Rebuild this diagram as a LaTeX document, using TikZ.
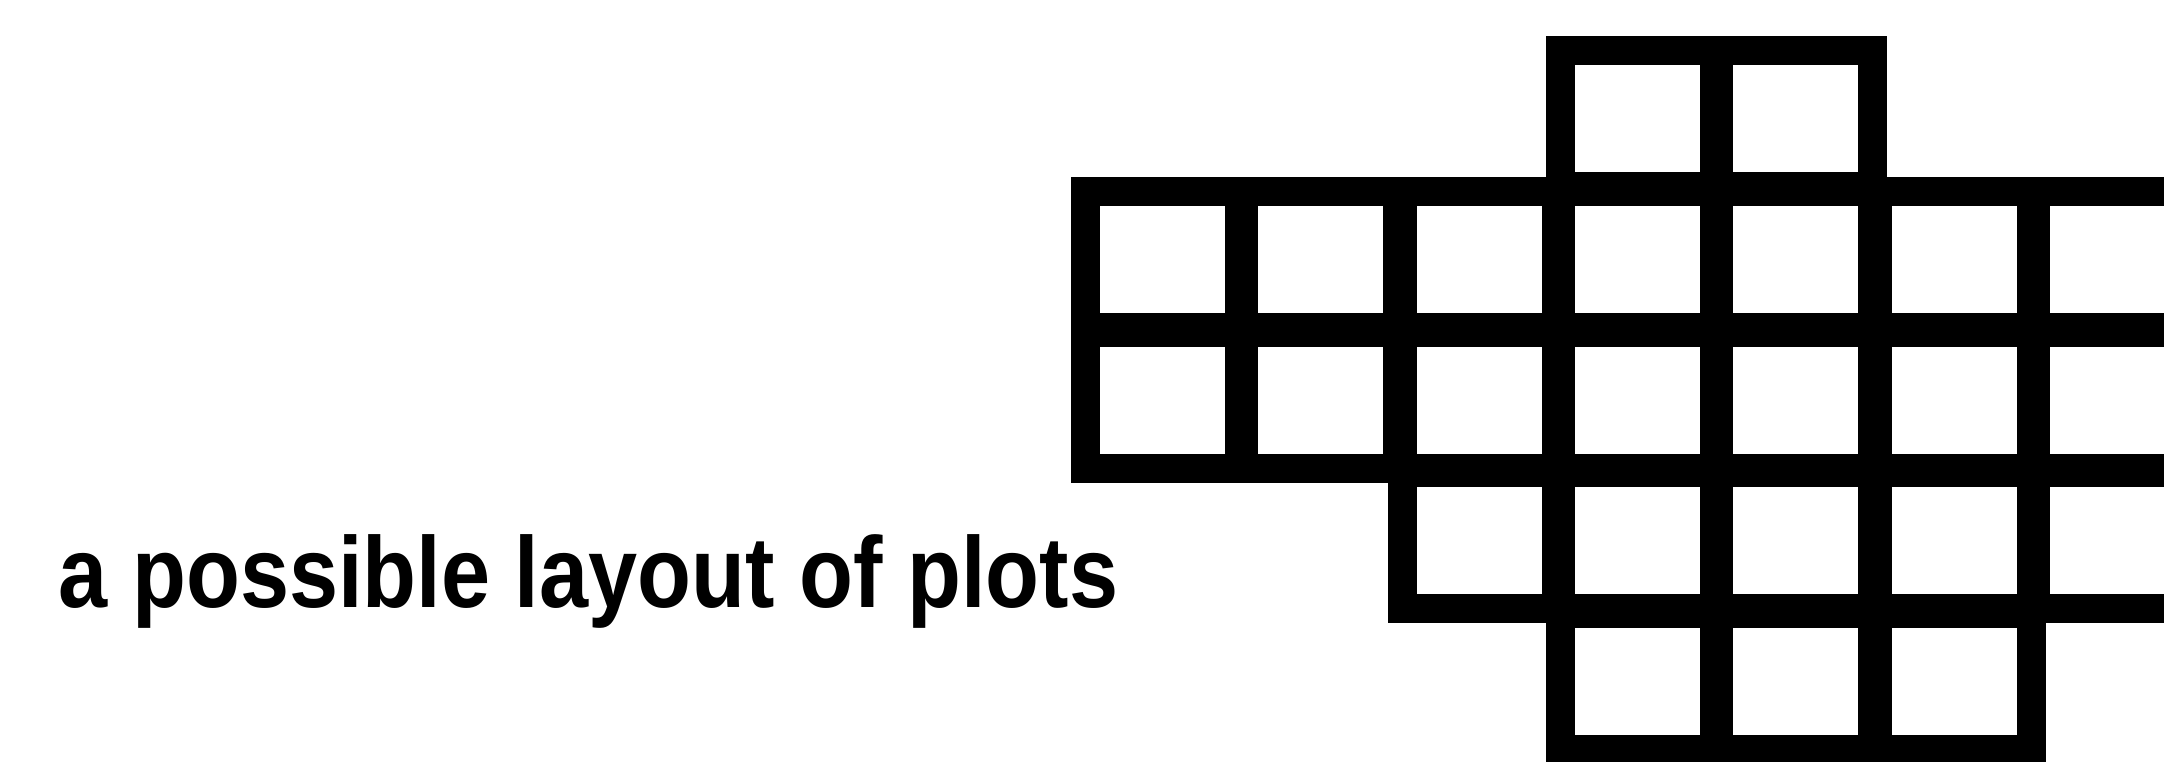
\documentclass[tikz,border=0pt]{standalone}
\usepackage{fontspec}
\setmainfont{Liberation Sans}
\begin{document}
\begin{tikzpicture}[x=0.01cm,y=-0.01cm,
  frame/.style={fill=black},
  cellfill/.style={fill=white},
  lbl/.style={anchor=base west,inner sep=0pt,font=\fontsize{25.1}{30}\selectfont\bfseries}]
\useasboundingbox (0,0) rectangle (2164,762);
\clip (0,0) rectangle (2164,762);
\def\cells{4/0,5/0,1/1,2/1,3/1,4/1,5/1,6/1,7/1,1/2,2/2,3/2,4/2,5/2,6/2,7/2,3/3,4/3,5/3,6/3,7/3,4/4,5/4,6/4}
\foreach \c/\r in \cells {
  \pgfmathsetmacro{\xx}{1100+(\c-1)*158.3}
  \pgfmathsetmacro{\yy}{65+\r*140.8}
  \fill[frame] (\xx-29,\yy-29) rectangle (\xx+125+29,\yy+107+29);
}
\foreach \c/\r in \cells {
  \pgfmathsetmacro{\xx}{1100+(\c-1)*158.3}
  \pgfmathsetmacro{\yy}{65+\r*140.8}
  \fill[cellfill] (\xx,\yy) rectangle (\xx+125,\yy+107);
}
\node[lbl] (caption) at (58,608) {\scalebox{1}[1.14]{a possible layout of plots}};
\end{tikzpicture}
\end{document}
